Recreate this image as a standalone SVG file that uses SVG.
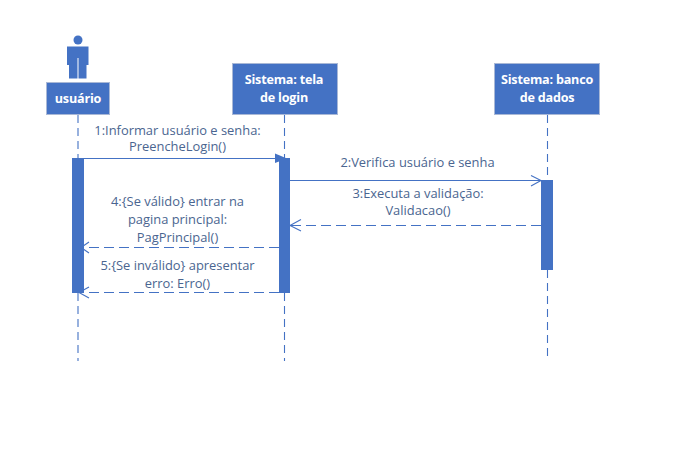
<svg xmlns="http://www.w3.org/2000/svg" width="678" height="453" viewBox="0 0 678 453">
<style>
.box{fill:#4472c4;stroke:#a9b8d6;stroke-width:1}
.bar{fill:#4472c4}
.life{stroke:#4472c4;stroke-width:1.1;stroke-dasharray:8 5;fill:none}
.msg{stroke:#4472c4;stroke-width:1.1;fill:none}
.ret{stroke:#4472c4;stroke-width:1.1;stroke-dasharray:10 5;fill:none}
.head{stroke:#4472c4;stroke-width:1.1;fill:none}
.t{font-family:"Open Sans","Noto Sans",sans-serif;font-size:12.9px;text-anchor:middle}
.n{fill:#fff;font-weight:700;font-size:12.6px;letter-spacing:-.2px}
.l{fill:#4a6590}
</style>
<rect width="678" height="453" fill="#fff"/>
<g id="connectors">
<path class="life" d="M78 115V158M78 293V361"/>
<path class="life" d="M284.500 115V158M284.500 293V361"/>
<path class="life" d="M547.500 115V180M547.500 270V361"/>
<path class="msg" d="M84 158.500H279"/>
<path fill="#4472c4" d="M275 153.500L287 158.500L275 163Z"/>
<path class="msg" d="M290 180.500H541M531 175.500L541 180.500L531 186"/>
<path class="ret" d="M541 225.500H290"/>
<path class="head" d="M301 219.500L290 225.500L301 231"/>
<path class="ret" d="M279 247.500H84"/>
<path class="head" d="M89 242L81 247.500L89 253"/>
<path class="ret" d="M279 292.500H84"/>
<path class="head" d="M89 287L79 292.500L89 298"/>
</g>
<g id="actor-icon" fill="#4472c4">
<circle cx="78" cy="40" r="4.500"/>
<path d="M67 46.500H88.500V65H86.500V78.500H78.500V58H77.500V78.500H69V65H67Z"/>
</g>
<g id="usuario"><rect class="box" x="46.500" y="82.500" width="63" height="32"/><text class="t n" x="78" y="102.500">usuário</text></g>
<g id="tela"><rect class="box" x="232.500" y="63.500" width="105" height="51"/><text class="t n" x="284" y="84">Sistema: tela</text><text class="t n" x="284" y="102">de login</text></g>
<g id="banco"><rect class="box" x="494.500" y="63.500" width="105" height="51"/><text class="t n" x="547" y="84">Sistema: banco</text><text class="t n" x="547" y="102">de dados</text></g>
<g id="activations">
<rect class="bar" x="72" y="158" width="12" height="135"/>
<rect class="bar" x="279" y="158" width="11" height="135"/>
<rect class="bar" x="541" y="180" width="12" height="90"/>
</g>
<g id="labels">
<text class="t l" x="177.500" y="135">1:Informar usuário e senha:</text>
<text class="t l" x="177.500" y="151">PreencheLogin()</text>
<text class="t l" x="417.500" y="167">2:Verifica usuário e senha</text>
<text class="t l" x="418" y="198">3:Executa a validação:</text>
<text class="t l" x="418" y="215">Validacao()</text>
<text class="t l" x="177.500" y="206">4:{Se válido} entrar na</text>
<text class="t l" x="177.500" y="224">pagina principal:</text>
<text class="t l" x="177.500" y="242">PagPrincipal()</text>
<text class="t l" x="177.500" y="270">5:{Se inválido} apresentar</text>
<text class="t l" x="177.500" y="288">erro: Erro()</text>
</g>
</svg>
